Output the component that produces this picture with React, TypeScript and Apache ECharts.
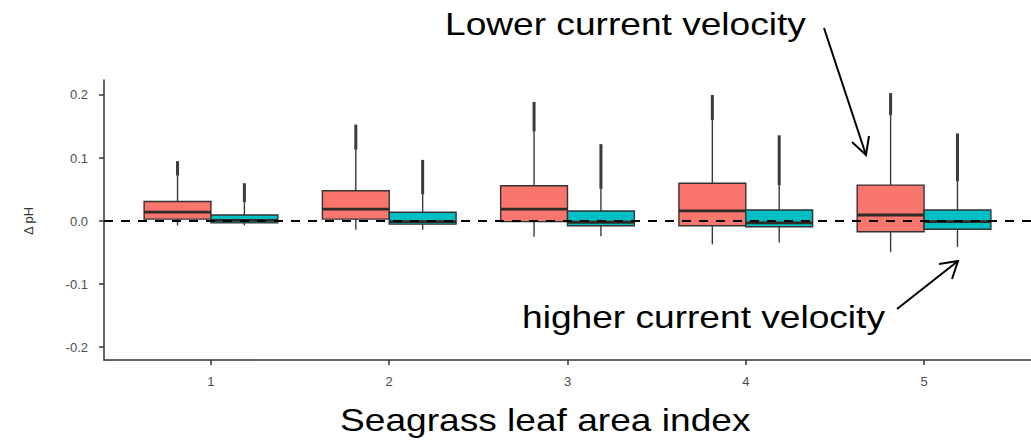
import React, { useEffect, useRef } from "react";
import * as echarts from "echarts";

// Seagrass leaf area index categories
const categories = [1, 2, 3, 4, 5];
const yTicks = [-0.2, -0.1, 0, 0.1, 0.2];

// Lower current velocity (red)
const lowerMin = [-0.007, -0.014, -0.025, -0.037, -0.049];
const lowerQ1 = [0.003, 0.003, -0.001, -0.0075, -0.017];
const lowerMedian = [0.014, 0.019, 0.019, 0.016, 0.0095];
const lowerQ3 = [0.031, 0.048, 0.056, 0.06, 0.057];
const lowerMax = [0.072, 0.113, 0.142, 0.16, 0.168];
const lowerOutlierTop = [0.095, 0.153, 0.189, 0.2, 0.203];

// Higher current velocity (teal)
const higherMin = [-0.007, -0.014, -0.024, -0.034, -0.041];
const higherQ1 = [-0.003, -0.005, -0.0075, -0.009, -0.013];
const higherMedian = [0.001, -0.001, -0.002, -0.003, -0.001];
const higherQ3 = [0.0095, 0.0138, 0.016, 0.0175, 0.0175];
const higherMax = [0.03, 0.042, 0.051, 0.057, 0.063];
const higherOutlierTop = [0.06, 0.097, 0.122, 0.136, 0.139];

const COLORS = ["#F8766D", "#00BFC4"];
const DODGE = 0.1875;
const BOX_W = 0.375;
const FONT = "'Liberation Sans', Arial, Helvetica, sans-serif";

export default function App() {
  const ref = useRef<HTMLDivElement>(null);
  useEffect(() => {
    if (!ref.current) return;
    const chart = echarts.init(ref.current, null, { renderer: "svg" });

    const data: any[] = [];
    categories.forEach((c, i) => {
      data.push([c - DODGE, lowerMin[i], lowerQ1[i], lowerMedian[i], lowerQ3[i], lowerMax[i], lowerOutlierTop[i], 0]);
      data.push([c + DODGE, higherMin[i], higherQ1[i], higherMedian[i], higherQ3[i], higherMax[i], higherOutlierTop[i], 1]);
    });

    const stroke = "#333333";

    const renderItem = (params: any, api: any) => {
      const x = api.value(0);
      const lo = api.value(1);
      const q1 = api.value(2);
      const med = api.value(3);
      const q3 = api.value(4);
      const hi = api.value(5);
      const out = api.value(6);
      const g = api.value(7);
      const hw = api.size([BOX_W, 0])[0] / 2;
      const cx = api.coord([x, lo])[0];
      const yLo = api.coord([x, lo])[1];
      const yQ1 = api.coord([x, q1])[1];
      const yMed = api.coord([x, med])[1];
      const yQ3 = api.coord([x, q3])[1];
      const yHi = api.coord([x, hi])[1];
      const yOut = api.coord([x, out])[1];
      return {
        type: "group",
        children: [
          { type: "line", shape: { x1: cx, y1: yOut, x2: cx, y2: yHi }, style: { stroke: "#3a3a3a", lineWidth: 3 } },
          { type: "line", shape: { x1: cx, y1: yHi, x2: cx, y2: yQ3 }, style: { stroke: "#3a3a3a", lineWidth: 1.4 } },
          { type: "line", shape: { x1: cx, y1: yQ1, x2: cx, y2: yLo }, style: { stroke: "#3a3a3a", lineWidth: 1.4 } },
          {
            type: "rect",
            shape: { x: cx - hw, y: yQ3, width: hw * 2, height: yQ1 - yQ3 },
            style: { fill: COLORS[g], stroke, lineWidth: 1.4 },
          },
          { type: "line", shape: { x1: cx - hw, y1: yMed, x2: cx + hw, y2: yMed }, style: { stroke: "#2e2a26", lineWidth: 2.8 } },
        ],
      };
    };

    const axisLineStyle = { color: "#333333", width: 1.5 };

    chart.setOption({
      animation: false,
      backgroundColor: "#ffffff",
      grid: { left: 104, top: 80, width: 930, height: 280 },
      xAxis: {
        type: "value",
        min: 0.4,
        max: 5.6,
        axisLine: { show: true, onZero: false, lineStyle: axisLineStyle },
        axisTick: { show: true, length: 5, customValues: categories, lineStyle: axisLineStyle },
        axisLabel: {
          customValues: categories,
          formatter: (v: number) => String(v),
          color: "#4d4d4d",
          fontSize: 13,
          fontFamily: FONT,
          margin: 15,
        },
        splitLine: { show: false },
      },
      yAxis: {
        type: "value",
        min: -0.2206,
        max: 0.2238,
        axisLine: { show: true, onZero: false, lineStyle: axisLineStyle },
        axisTick: { show: true, length: 5, customValues: yTicks, lineStyle: axisLineStyle },
        axisLabel: {
          customValues: yTicks,
          formatter: (v: number) => v.toFixed(1),
          color: "#4d4d4d",
          fontSize: 13,
          fontFamily: FONT,
          margin: 16,
        },
        splitLine: { show: false },
      },
      series: [
        {
          type: "custom",
          renderItem,
          data,
          encode: { x: 0, y: [1, 2, 3, 4, 5, 6] },
          z: 2,
          markLine: {
            silent: true,
            symbol: ["none", "none"],
            label: { show: false },
            lineStyle: { type: [9, 8], color: "#000000", width: 2 },
            data: [{ yAxis: 0 }],
            z: 10,
          },
        },
      ],
      graphic: [
        {
          type: "text",
          x: 28,
          y: 221,
          rotation: Math.PI / 2,
          style: { text: "Δ pH", fontSize: 13, fontFamily: FONT, fill: "#333", align: "center", verticalAlign: "middle" },
        },
        {
          type: "text",
          x: 445,
          y: 24,
          scaleX: 1.16,
          style: { text: "Lower current velocity", fontSize: 32, fontFamily: FONT, fill: "#000", align: "left", verticalAlign: "middle" },
        },
        {
          type: "text",
          x: 522,
          y: 317,
          scaleX: 1.16,
          style: { text: "higher current velocity", fontSize: 32, fontFamily: FONT, fill: "#000", align: "left", verticalAlign: "middle" },
        },
        {
          type: "text",
          x: 340,
          y: 420,
          scaleX: 1.16,
          style: { text: "Seagrass leaf area index", fontSize: 32, fontFamily: FONT, fill: "#000", align: "left", verticalAlign: "middle" },
        },
        { type: "line", shape: { x1: 824, y1: 28, x2: 866, y2: 155 }, style: { stroke: "#000", lineWidth: 2 } },
        { type: "polyline", shape: { points: [[852, 142], [866, 155], [869, 136]] }, style: { stroke: "#000", lineWidth: 2, fill: null } },
        { type: "line", shape: { x1: 897, y1: 309, x2: 958, y2: 261 }, style: { stroke: "#000", lineWidth: 2 } },
        { type: "polyline", shape: { points: [[939, 264], [958, 261], [952, 279]] }, style: { stroke: "#000", lineWidth: 2, fill: null } },
      ],
    });
    return () => chart.dispose();
  }, []);
  return <div ref={ref} style={{ position: "fixed", left: 0, top: 0, width: 1031, height: 445 }} />;
}
